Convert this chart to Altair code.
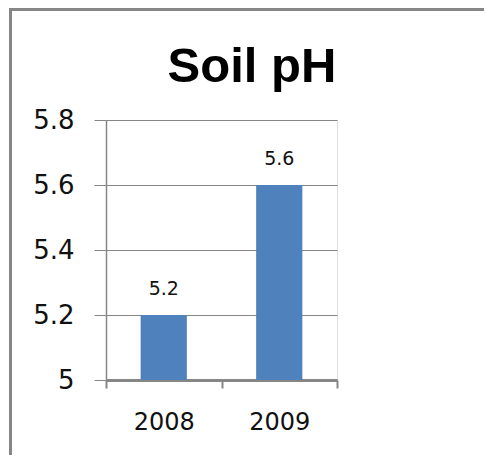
import altair as alt
import pandas as pd

years = ["2008", "2009"]
ph_values = [5.2, 5.6]
y_ticks = [5.0, 5.2, 5.4, 5.6, 5.8]
title_text = "Soil pH"

df = pd.DataFrame({"year": years, "ph": ph_values})
border_df = pd.DataFrame({"b": [1]})
title_df = pd.DataFrame({"t": [title_text]})

GRAY = "#868686"
FONT = "DejaVu Sans"

base = alt.Chart(df)

bars = base.mark_bar(color="#4F81BD", width=alt.RelativeBandSize(0.4)).encode(
    x=alt.X(
        "year:N",
        sort=years,
        title=None,
        scale=alt.Scale(paddingInner=0, paddingOuter=0),
        axis=alt.Axis(
            labelAngle=0,
            labelFont=FONT,
            labelFontSize=24,
            labelColor="#111111",
            labelPadding=22,
            domainColor=GRAY,
            domainWidth=3,
            tickColor=GRAY,
            tickWidth=2,
            tickSize=8,
            tickBand="extent",
            grid=False,
        ),
    ),
    y=alt.Y(
        "ph:Q",
        title=None,
        scale=alt.Scale(domain=[5.0, 5.8], zero=False, nice=False),
        axis=alt.Axis(
            values=y_ticks,
            labelExpr="'' + datum.value",
            labelFont=FONT,
            labelFontSize=26,
            labelColor="#111111",
            labelPadding=20,
            domainColor=GRAY,
            domainWidth=1.5,
            tickColor=GRAY,
            tickWidth=1,
            tickSize=12,
            grid=True,
            gridColor=GRAY,
            gridWidth=1,
            gridOpacity=1,
        ),
    ),
    y2=alt.datum(5.0),
)

labels = base.mark_text(
    font=FONT, fontSize=19, color="#111111", baseline="alphabetic", dy=-20
).encode(
    x=alt.X("year:N", sort=years),
    y=alt.Y("ph:Q"),
    text=alt.Text("ph:Q", format=".1f"),
)

title = alt.Chart(title_df).mark_text(
    font="Liberation Sans", fontSize=49, fontWeight="bold", color="#000000",
    align="center", baseline="alphabetic"
).encode(x=alt.value(146), y=alt.value(-38), text="t:N")

border = alt.Chart(border_df).mark_rect(
    fill=None, stroke=GRAY, strokeWidth=3
).encode(
    x=alt.value(-95.5), x2=alt.value(500), y=alt.value(-110.5), y2=alt.value(400)
)

chart = (
    alt.layer(bars, labels, title, border)
    .properties(
        width=231,
        height=260,
        padding={"left": 98, "top": 112, "right": 147, "bottom": 75},
        autosize=alt.AutoSizeParams(type="none"),
    )
    .configure_view(stroke=None)
    .configure(background="white")
)

chart.save("out.html", embed_options={"renderer": "svg", "actions": False})
